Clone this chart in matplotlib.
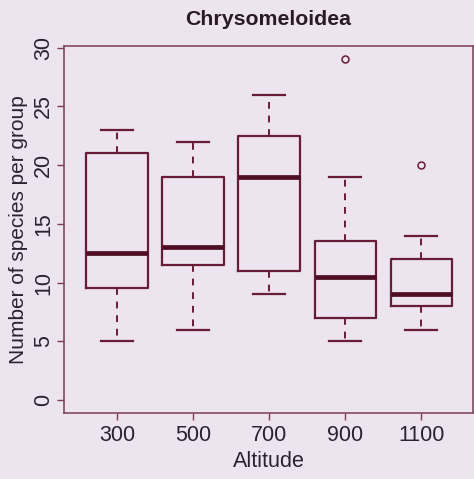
import matplotlib
matplotlib.use("Agg")
import matplotlib.pyplot as plt

# Box statistics
altitudes = ["300", "500", "700", "900", "1100"]
whisker_low = [5, 6, 9, 5, 6]
q1 = [9.5, 11.5, 11, 7, 8]
medians = [12.5, 13, 19, 10.5, 9]
q3 = [21, 19, 22.5, 13.5, 12]
whisker_high = [23, 22, 26, 19, 14]
outliers = [[], [], [], [29], [20]]

bg_color = "#ece4ef"
line_color = "#6a1b35"
median_color = "#4e0f25"
frame_color = "#7d3a58"
text_color = "#2a2230"

plt.rcParams["font.family"] = ["Liberation Sans", "DejaVu Sans"]

fig = plt.figure(figsize=(4.74, 4.79), dpi=100)
fig.patch.set_facecolor(bg_color)
ax = fig.add_axes([0.135, 0.138, 0.863, 0.766])
ax.set_facecolor(bg_color)

stats = []
for i, name in enumerate(altitudes):
    stats.append(dict(label=name, whislo=whisker_low[i], q1=q1[i],
                      med=medians[i], q3=q3[i], whishi=whisker_high[i],
                      fliers=outliers[i]))

ax.bxp(stats, positions=range(1, len(altitudes) + 1), widths=0.81,
       showfliers=True,
       boxprops=dict(color=line_color, linewidth=1.6),
       medianprops=dict(color=median_color, linewidth=3.4, solid_capstyle="butt"),
       whiskerprops=dict(color=line_color, linewidth=1.4, linestyle=(0, (3.5, 3.5))),
       capprops=dict(color=line_color, linewidth=1.6),
       capwidths=0.42,
       flierprops=dict(marker="o", markersize=5, markerfacecolor="none",
                       markeredgecolor=line_color, markeredgewidth=1.1))

ax.set_xlim(0.3, 5.68)
ax.set_ylim(-1.1, 30.15)
ax.set_yticks([0, 5, 10, 15, 20, 25, 30])
ax.set_yticklabels(["0", "5", "10", "15", "20", "25", "30"], rotation=90,
                   va="center")
ax.set_xticklabels(altitudes)

for sp in ax.spines.values():
    sp.set_color(frame_color)
    sp.set_linewidth(1.1)

ax.tick_params(axis="both", colors=frame_color, labelcolor=text_color,
               labelsize=15.5, length=5, width=1.0, direction="out")
ax.tick_params(axis="x", pad=4)
ax.tick_params(axis="y", pad=2)

ax.set_xlabel("Altitude", fontsize=15.5, color=text_color, labelpad=3)
ax.set_ylabel("Number of species per group", fontsize=15, color=text_color,
              labelpad=4)
ax.set_title("Chrysomeloidea", fontsize=15.3, fontweight="bold",
             color="#2a1a28", pad=15)

fig.savefig("out.png", dpi=100, facecolor=bg_color)
